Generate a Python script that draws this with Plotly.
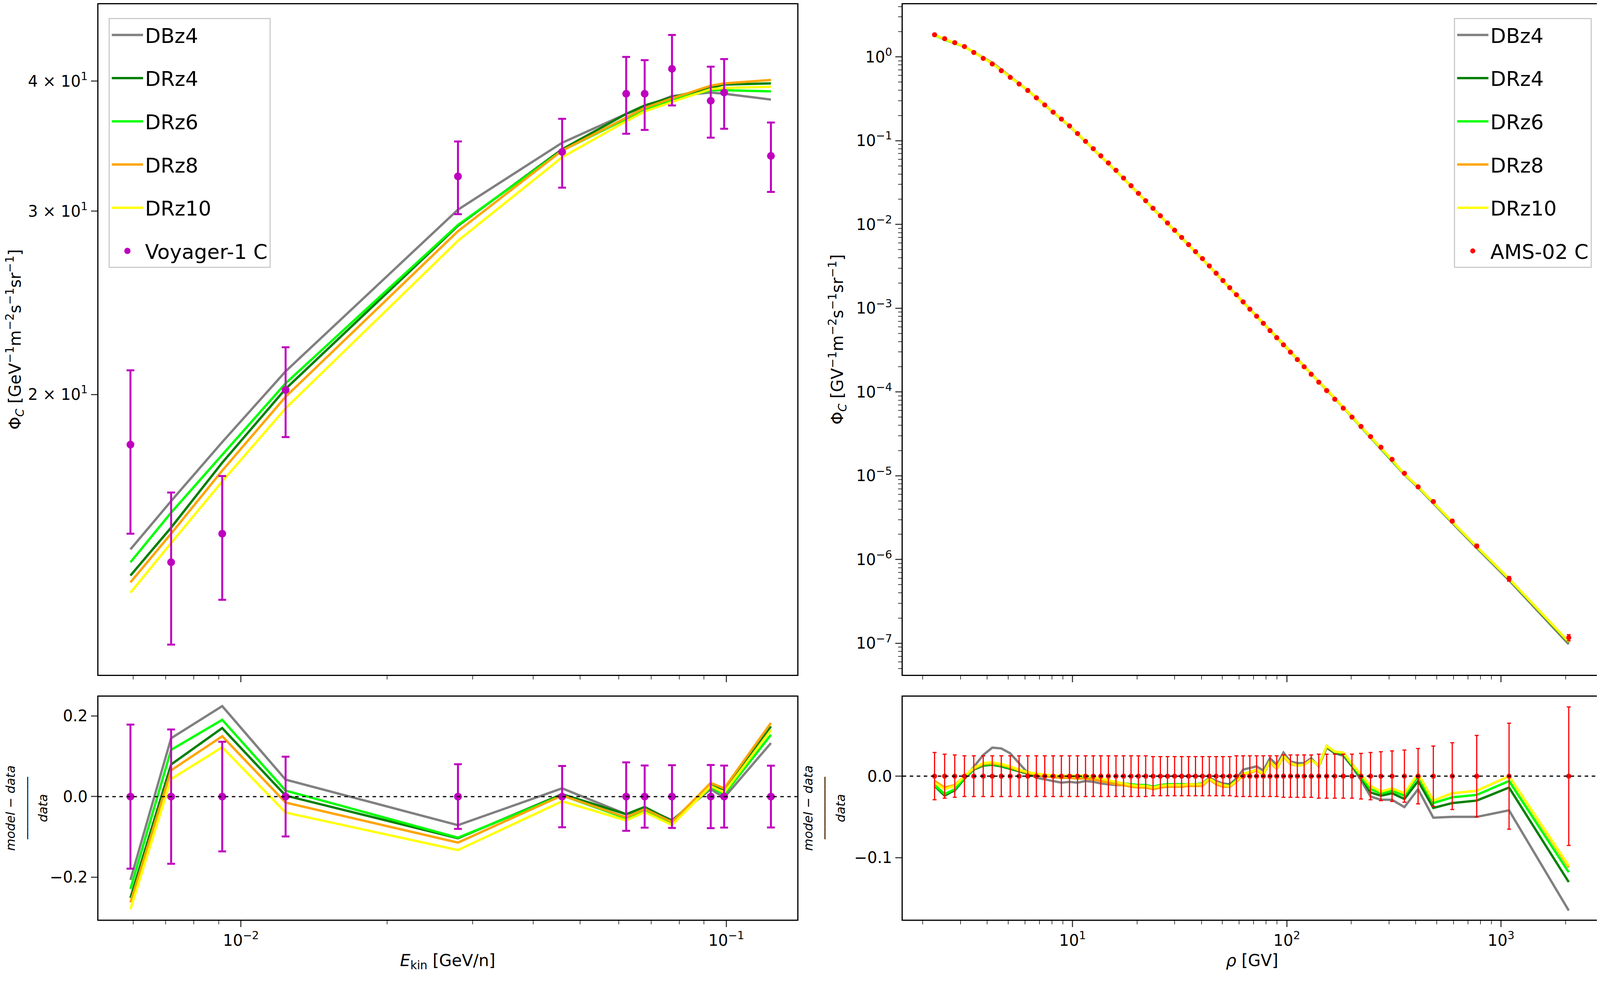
import plotly.graph_objects as go
from plotly.subplots import make_subplots

# ---- Voyager-1 carbon (left) ----
voy_ekin = [0.00592, 0.00718, 0.00915, 0.01236, 0.0280, 0.0459,
            0.0622, 0.0679, 0.0773, 0.0929, 0.0990, 0.1236]
voy_flux = [17.9, 13.8, 14.7, 20.2, 32.4, 34.2, 38.9, 38.9, 41.1, 38.3, 39.0, 33.9]
voy_err = [3.2, 2.3, 2.0, 2.0, 2.6, 2.6, 3.3, 3.0, 3.2, 3.0, 3.0, 2.6]

voy_models = {
    'DBz4':  [14.2, 15.8, 18.0, 21.05, 30.1, 34.9, 37.2, 37.8, 38.7, 39.0, 38.9, 38.4],
    'DRz4':  [13.4, 14.9, 17.2, 20.25, 29.05, 34.4, 37.2, 37.9, 38.6, 39.4, 39.7, 39.8],
    'DRz6':  [13.8, 15.4, 17.5, 20.5, 29.1, 34.3, 36.8, 37.5, 38.4, 39.2, 39.2, 39.1],
    'DRz8':  [13.2, 14.7, 16.9, 19.9, 28.7, 34.3, 36.9, 37.7, 38.5, 39.6, 39.8, 40.1],
    'DRz10': [12.9, 14.4, 16.5, 19.4, 28.1, 33.8, 36.6, 37.4, 38.2, 39.3, 39.4, 39.5],
}

# ---- AMS-02 carbon (right) ----
ams_rig = [2.27, 2.53, 2.82, 3.13, 3.46, 3.83, 4.22, 4.65, 5.12, 5.63,
           6.18, 6.78, 7.42, 8.12, 8.87, 9.68, 10.55, 11.5, 12.5, 13.55,
           14.7, 15.95, 17.3, 18.75, 20.3, 21.95, 23.75, 25.7, 27.75, 29.95,
           32.3, 34.8, 37.5, 40.4, 43.5, 46.8, 50.35, 54.15, 58.2, 62.55,
           67.25, 72.3, 77.7, 83.5, 89.75, 96.5, 104, 112, 120.5, 130,
           141, 153.5, 167.5, 183.5, 201.5, 222, 246, 275, 310, 354,
           410, 483, 592, 770, 1090, 2070]
ams_flux = [1.84, 1.65, 1.48, 1.33, 1.13, 0.96, 0.825, 0.685, 0.570, 0.475,
            0.398, 0.325, 0.267, 0.219, 0.181, 0.150, 0.1216, 0.0982, 0.0803, 0.0659,
            0.0542, 0.0443, 0.0358, 0.0290, 0.0235, 0.0192, 0.0156, 0.0127, 0.01042, 0.00853,
            0.0070, 0.00575, 0.00474, 0.00391, 0.00320, 0.00262, 0.00214, 0.00176, 0.00145, 0.00119,
            9.75e-4, 8.03e-4, 6.61e-4, 5.41e-4, 4.46e-4, 3.66e-4, 2.99e-4, 2.44e-4, 2.00e-4, 1.63e-4,
            1.31e-4, 1.04e-4, 8.2e-5, 6.41e-5, 5.02e-5, 3.88e-5, 2.94e-5, 2.19e-5, 1.57e-5, 1.07e-5,
            7.38e-6, 4.93e-6, 2.88e-6, 1.45e-6, 5.9e-7, 1.17e-7]
ams_relerr = [0.029, 0.027, 0.026, 0.025, 0.025, 0.025, 0.025, 0.025, 0.025, 0.025,
              0.025, 0.025, 0.025, 0.025, 0.025, 0.025, 0.025, 0.025, 0.025, 0.025,
              0.025, 0.025, 0.025, 0.025, 0.025, 0.025, 0.024, 0.024, 0.024, 0.024,
              0.024, 0.024, 0.024, 0.024, 0.024, 0.024, 0.024, 0.024, 0.025, 0.025,
              0.025, 0.025, 0.025, 0.025, 0.025, 0.026, 0.026, 0.026, 0.026, 0.026,
              0.027, 0.027, 0.027, 0.027, 0.027, 0.028, 0.029, 0.030, 0.031, 0.032,
              0.034, 0.037, 0.041, 0.050, 0.065, 0.085]

# (model - data)/data
ams_res = {
    'DBz4': [-0.011, -0.022, -0.018, -0.003, 0.012, 0.026, 0.035, 0.034, 0.028, 0.016,
             0.004, -0.002, -0.004, -0.006, -0.008, -0.007, -0.008, -0.006, -0.007, -0.009,
             -0.010, -0.011, -0.011, -0.012, -0.013, -0.012, -0.014, -0.012, -0.011, -0.011,
             -0.011, -0.010, -0.010, -0.009, -0.002, -0.006, -0.009, -0.010, -0.003, 0.008,
             0.010, 0.012, 0.007, 0.022, 0.014, 0.029, 0.018, 0.016, 0.016, 0.022,
             0.012, 0.035, 0.028, 0.025, 0.012, -0.005, -0.025, -0.029, -0.029, -0.038,
             -0.016, -0.051, -0.050, -0.050, -0.042, -0.165],
    'DRz4': [-0.012, -0.024, -0.017, -0.003, 0.008, 0.013, 0.014, 0.012, 0.009, 0.006,
             0.003, 0.001, 0.000, -0.001, -0.002, -0.002, -0.003, -0.002, -0.003, -0.005,
             -0.007, -0.008, -0.009, -0.010, -0.011, -0.011, -0.013, -0.011, -0.010, -0.010,
             -0.010, -0.010, -0.010, -0.009, -0.003, -0.008, -0.011, -0.011, -0.005, 0.003,
             0.005, 0.008, 0.003, 0.018, 0.010, 0.025, 0.015, 0.013, 0.014, 0.020,
             0.013, 0.036, 0.029, 0.027, 0.013, -0.002, -0.020, -0.024, -0.021, -0.028,
             -0.006, -0.039, -0.033, -0.030, -0.014, -0.130],
    'DRz6': [-0.011, -0.022, -0.016, -0.002, 0.009, 0.014, 0.015, 0.013, 0.010, 0.007,
             0.004, 0.002, 0.001, 0.000, -0.001, -0.001, -0.002, -0.001, -0.002, -0.004,
             -0.006, -0.008, -0.009, -0.010, -0.011, -0.011, -0.013, -0.011, -0.010, -0.010,
             -0.010, -0.010, -0.010, -0.009, -0.003, -0.008, -0.011, -0.012, -0.005, 0.003,
             0.005, 0.008, 0.003, 0.018, 0.010, 0.025, 0.015, 0.013, 0.014, 0.020,
             0.013, 0.037, 0.030, 0.028, 0.014, 0.000, -0.016, -0.021, -0.018, -0.024,
             0.000, -0.033, -0.026, -0.023, -0.006, -0.118],
    'DRz8': [-0.006, -0.014, -0.011, 0.000, 0.009, 0.015, 0.016, 0.014, 0.011, 0.007,
             0.004, 0.002, 0.000, -0.001, -0.002, -0.002, -0.003, -0.003, -0.004, -0.006,
             -0.008, -0.010, -0.011, -0.013, -0.014, -0.014, -0.016, -0.014, -0.013, -0.013,
             -0.013, -0.012, -0.012, -0.012, -0.004, -0.010, -0.013, -0.013, -0.007, 0.002,
             0.004, 0.007, 0.002, 0.017, 0.009, 0.024, 0.015, 0.013, 0.014, 0.020,
             0.013, 0.037, 0.030, 0.029, 0.015, 0.002, -0.012, -0.019, -0.015, -0.021,
             0.003, -0.030, -0.021, -0.018, 0.000, -0.112],
    'DRz10': [-0.008, -0.016, -0.012, 0.000, 0.010, 0.016, 0.017, 0.015, 0.012, 0.008,
              0.005, 0.003, 0.002, 0.001, 0.000, 0.001, 0.000, 0.001, -0.001, -0.003,
              -0.005, -0.007, -0.009, -0.011, -0.012, -0.012, -0.014, -0.012, -0.011, -0.011,
              -0.011, -0.010, -0.010, -0.010, -0.003, -0.008, -0.011, -0.012, -0.006, 0.003,
              0.005, 0.008, 0.003, 0.018, 0.010, 0.025, 0.016, 0.013, 0.014, 0.020,
              0.013, 0.037, 0.030, 0.029, 0.015, 0.002, -0.012, -0.019, -0.015, -0.021,
              0.003, -0.030, -0.021, -0.018, 0.000, -0.110],
}

model_colors = {'DBz4': 'grey', 'DRz4': 'green', 'DRz6': 'lime',
                'DRz8': 'orange', 'DRz10': 'yellow'}

FONT = 'DejaVu Sans'
LW = 6

fig = make_subplots(rows=2, cols=2)

# left column
for name, vals in voy_models.items():
    fig.add_trace(go.Scatter(x=voy_ekin, y=vals, mode='lines', name=name,
                             legendgroup='L' + name,
                             line=dict(color=model_colors[name], width=LW),
                             legend='legend'), row=1, col=1)
    res = [(m - d) / d for m, d in zip(vals, voy_flux)]
    fig.add_trace(go.Scatter(x=voy_ekin, y=res, mode='lines', showlegend=False,
                             line=dict(color=model_colors[name], width=LW)), row=2, col=1)
fig.add_trace(go.Scatter(x=voy_ekin, y=voy_flux, mode='markers', name='Voyager-1 C',
                         legendgroup='Lvoy',
                         marker=dict(color='#BF00BF', size=20),
                         error_y=dict(array=voy_err, color='#BF00BF', thickness=5, width=10),
                         legend='legend'), row=1, col=1)
fig.add_trace(go.Scatter(x=voy_ekin, y=[0] * len(voy_ekin), mode='markers', showlegend=False,
                         marker=dict(color='#BF00BF', size=20),
                         error_y=dict(array=[e / d for e, d in zip(voy_err, voy_flux)],
                                      color='#BF00BF', thickness=5, width=10)), row=2, col=1)

# right column
for name, res in ams_res.items():
    model = [f * (1 + r) for f, r in zip(ams_flux, res)]
    fig.add_trace(go.Scatter(x=ams_rig, y=model, mode='lines', name=name,
                             legendgroup='R' + name,
                             line=dict(color=model_colors[name], width=LW),
                             legend='legend2'), row=1, col=2)
    fig.add_trace(go.Scatter(x=ams_rig, y=res, mode='lines', showlegend=False,
                             line=dict(color=model_colors[name], width=LW)), row=2, col=2)
fig.add_trace(go.Scatter(x=ams_rig, y=ams_flux, mode='markers', name='AMS-02 C',
                         legendgroup='Rams',
                         marker=dict(color='red', size=13),
                         error_y=dict(array=[f * e for f, e in zip(ams_flux, ams_relerr)],
                                      color='red', thickness=3, width=5),
                         legend='legend2'), row=1, col=2)
fig.add_trace(go.Scatter(x=ams_rig, y=[0] * len(ams_rig), mode='markers', showlegend=False,
                         marker=dict(color='red', size=13),
                         error_y=dict(array=ams_relerr, color='red', thickness=3, width=5)),
              row=2, col=2)

fig.add_hline(y=0, line=dict(color='black', dash='dash', width=3), row=2, col=1)
fig.add_hline(y=0, line=dict(color='black', dash='dash', width=3), row=2, col=2)

ax = dict(showline=True, linecolor='black', linewidth=3, mirror=True, showgrid=False,
          zeroline=False, ticks='outside', ticklen=16, tickwidth=3,
          tickfont=dict(size=40, color='black'))


def minor_ticks(lo, hi):
    return dict(ticks='outside', ticklen=9, tickwidth=2, showgrid=False,
                tickvals=[m * 10.0 ** e for e in range(lo, hi) for m in range(2, 10)])


sup = lambda e: '10<sup>%s</sup>' % (str(e).replace('-', '−'))
ytitle = 'Φ<sub><i>C</i></sub> [%s<sup>−1</sup>m<sup>−2</sup>s<sup>−1</sup>sr<sup>−1</sup>]'
restitle = '<i>model − data</i><br>―――――<br><i>data</i>'

leg = dict(yanchor='top', bgcolor='white', bordercolor='#cccccc', borderwidth=3,
           font=dict(size=52), tracegroupgap=40, itemwidth=80)

fig.update_layout(
    width=4096, height=2548, plot_bgcolor='white', paper_bgcolor='white',
    font=dict(family=FONT, color='black', size=40),
    margin=dict(l=0, r=0, t=0, b=0),
    xaxis=dict(ax, type='log', domain=[0.059, 0.496], range=[-2.294, -0.854],
               tickvals=[0.01, 0.1], ticktext=['', ''], minor=minor_ticks(-3, 0)),
    xaxis3=dict(ax, type='log', domain=[0.059, 0.496], range=[-2.294, -0.854], matches='x',
                tickvals=[0.01, 0.1], ticktext=[sup(-2), sup(-1)], minor=minor_ticks(-3, 0),
                title=dict(text='<i>E</i><sub>kin</sub> [GeV/n]', font=dict(size=42))),
    yaxis=dict(ax, type='log', domain=[0.325, 0.999], range=[1.0318, 1.676],
               tickvals=[20, 30, 40], ticktext=['2 × 10<sup>1</sup>', '3 × 10<sup>1</sup>',
                                                '4 × 10<sup>1</sup>'],
               title=dict(text=ytitle % 'GeV', font=dict(size=42), standoff=20)),
    yaxis3=dict(ax, domain=[0.079, 0.303], range=[-0.305, 0.248],
                tickvals=[-0.2, 0.0, 0.2], ticktext=['−0.2', '0.0', '0.2'],
                title=dict(text=restitle, font=dict(size=32), standoff=14)),
    xaxis2=dict(ax, type='log', domain=[0.562, 0.999], range=[0.2072, 3.469],
                tickvals=[10, 100, 1000], ticktext=['', '', ''], minor=minor_ticks(0, 4)),
    xaxis4=dict(ax, type='log', domain=[0.562, 0.999], range=[0.2072, 3.469], matches='x2',
                tickvals=[10, 100, 1000], ticktext=[sup(1), sup(2), sup(3)],
                minor=minor_ticks(0, 4),
                title=dict(text='<i>ρ</i> [GV]', font=dict(size=42))),
    yaxis2=dict(ax, type='log', domain=[0.325, 0.999], range=[-7.375, 0.63],
                tickvals=[10 ** -e for e in range(8)],
                ticktext=[sup(-e) if e else sup(0) for e in range(8)],
                minor=minor_ticks(-8, 1),
                title=dict(text=ytitle % 'GV', font=dict(size=42), standoff=20)),
    yaxis4=dict(ax, domain=[0.079, 0.303], range=[-0.176, 0.0976],
                tickvals=[-0.1, 0.0], ticktext=['−0.1', '0.0'],
                title=dict(text=restitle, font=dict(size=32), standoff=14)),
    legend=dict(leg, x=0.0655, y=0.985, xanchor='left'),
    legend2=dict(leg, x=0.993, y=0.985, xanchor='right'),
)

fig.write_html('out.html')
